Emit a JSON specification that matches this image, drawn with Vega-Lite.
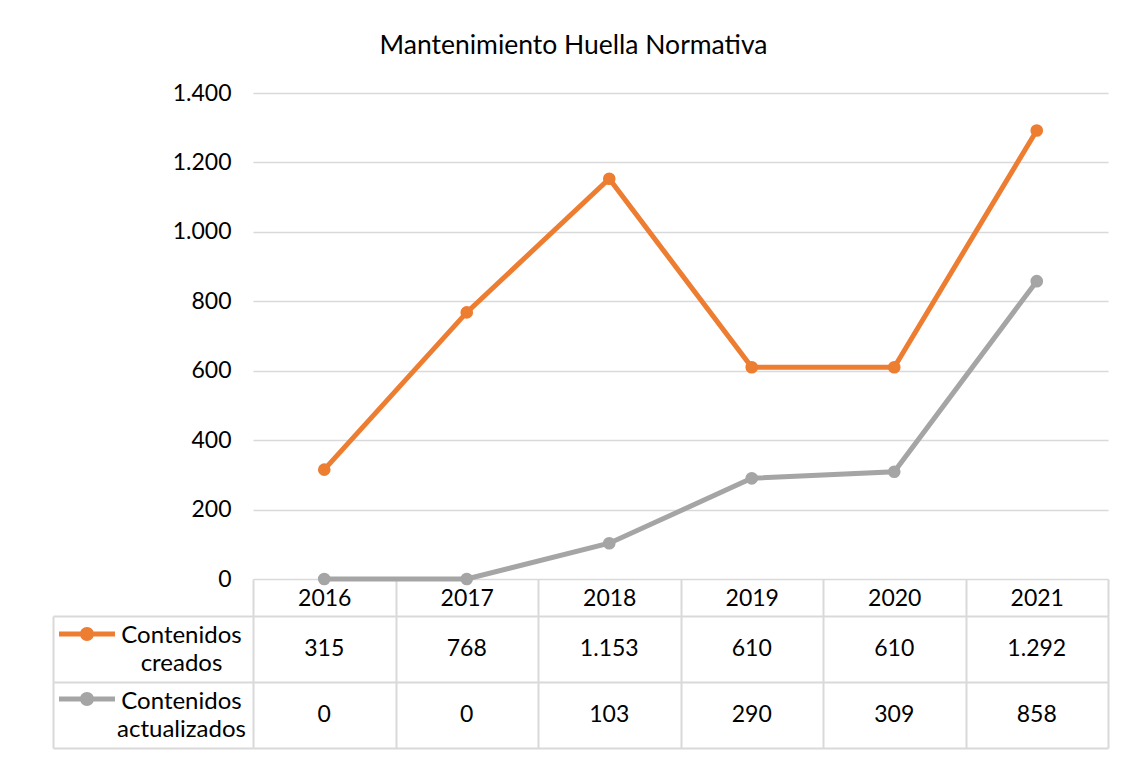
{
  "$schema": "https://vega.github.io/schema/vega-lite/v6.json",
  "autosize": {"type": "pad"},
  "padding": {"left": 52, "top": 32, "right": 20, "bottom": 5},
  "background": "white",
  "title": {"text": "Mantenimiento Huella Normativa", "anchor": "middle", "frame": "bounds", "fontSize": 26.5, "font": "Lato", "fontWeight": "normal", "color": "#000000", "offset": 23, "dx": -7},
  "datasets": {
    "d": [
      {"year": "2016", "serie": "Contenidos creados", "value": 315},
      {"year": "2017", "serie": "Contenidos creados", "value": 768},
      {"year": "2018", "serie": "Contenidos creados", "value": 1153},
      {"year": "2019", "serie": "Contenidos creados", "value": 610},
      {"year": "2020", "serie": "Contenidos creados", "value": 610},
      {"year": "2021", "serie": "Contenidos creados", "value": 1292},
      {"year": "2016", "serie": "Contenidos actualizados", "value": 0},
      {"year": "2017", "serie": "Contenidos actualizados", "value": 0},
      {"year": "2018", "serie": "Contenidos actualizados", "value": 103},
      {"year": "2019", "serie": "Contenidos actualizados", "value": 290},
      {"year": "2020", "serie": "Contenidos actualizados", "value": 309},
      {"year": "2021", "serie": "Contenidos actualizados", "value": 858}
    ]
  },
  "config": {
    "font": "Lato",
    "view": {"stroke": null},
    "locale": {"number": {"decimal": ",", "thousands": ".", "grouping": [3], "currency": ["", " €"]}}
  },
  "spacing": 37,
  "bounds": "flush",
  "resolve": {"scale": {"color": "independent"}, "legend": {"color": "independent"}},
  "vconcat": [
    {
      "width": 855,
      "height": 486,
      "data": {"name": "d"},
      "mark": {"type": "line", "strokeWidth": 5, "point": {"filled": true, "size": 160}},
      "encoding": {
        "x": {
          "field": "year", "type": "ordinal",
          "scale": {"type": "band", "paddingInner": 0, "paddingOuter": 0},
          "axis": {"title": null, "orient": "bottom", "domain": false, "ticks": true, "tickBand": "extent", "tickSize": 37, "tickColor": "#d9d9d9", "tickWidth": 2, "labelAngle": 0, "labelFontSize": 23, "labelColor": "#000000", "labelPadding": -18, "labelBaseline": "middle", "grid": false}
        },
        "y": {
          "field": "value", "type": "quantitative",
          "scale": {"domain": [0, 1400], "nice": false},
          "axis": {"title": null, "values": [0, 200, 400, 600, 800, 1000, 1200, 1400], "format": ",d", "domain": false, "ticks": false, "grid": true, "gridColor": "#d9d9d9", "gridWidth": 1.5, "labelFontSize": 23, "labelColor": "#000000", "labelPadding": 22}
        },
        "color": {
          "field": "serie", "type": "nominal",
          "scale": {"domain": ["Contenidos creados", "Contenidos actualizados"], "range": ["#ed7d31", "#a5a5a5"]},
          "legend": null
        }
      }
    },
    {
      "width": 855,
      "height": 132,
      "data": {"name": "d"},
      "encoding": {
        "x": {
          "field": "year", "type": "ordinal",
          "scale": {"type": "band", "paddingInner": 0, "paddingOuter": 0},
          "axis": {"orient": "top", "title": null, "labels": false, "ticks": false, "domain": false, "grid": true, "tickBand": "extent", "gridColor": "#d9d9d9", "gridWidth": 2}
        },
        "y": {
          "field": "serie", "type": "nominal",
          "sort": ["Contenidos creados", "Contenidos actualizados"],
          "scale": {"type": "band", "paddingInner": 0, "paddingOuter": 0},
          "axis": {"title": null, "orient": "left", "offset": 200, "domain": true, "domainColor": "#d9d9d9", "domainWidth": 2, "ticks": true, "tickBand": "extent", "tickSize": -200, "tickColor": "#d9d9d9", "tickWidth": 2, "grid": true, "gridColor": "#d9d9d9", "gridWidth": 2, "labelExpr": "split(datum.label, ' ')", "labelAlign": "center", "labelBaseline": "middle", "labelPadding": 72, "labelOffset": -14, "labelLineHeight": 28, "labelFontSize": 24, "labelColor": "#000000"}
        }
      },
      "layer": [
        {
          "mark": {"type": "text", "fontSize": 23, "color": "#000000"},
          "encoding": {"text": {"field": "value", "type": "quantitative", "format": ",d"}}
        },
        {
          "mark": {"type": "point", "filled": true, "size": 0},
          "encoding": {
            "color": {
              "field": "serie", "type": "nominal",
              "scale": {"domain": ["Contenidos creados", "Contenidos actualizados"], "range": ["#ed7d31", "#a5a5a5"]},
              "legend": {"orient": "none", "legendX": -194, "legendY": -10, "title": null, "symbolType": "M-1,-0.09H1V0.09H-1Z M0.25,0A0.25,0.25 0 1 1 -0.25,0A0.25,0.25 0 1 1 0.25,0Z", "symbolSize": 3136, "symbolStrokeWidth": 0, "symbolOpacity": 1, "labelExpr": "''", "labelFontSize": 1, "rowPadding": 30, "padding": 0, "symbolOffset": 0, "labelOffset": 0}
            }
          }
        }
      ]
    }
  ]
}
